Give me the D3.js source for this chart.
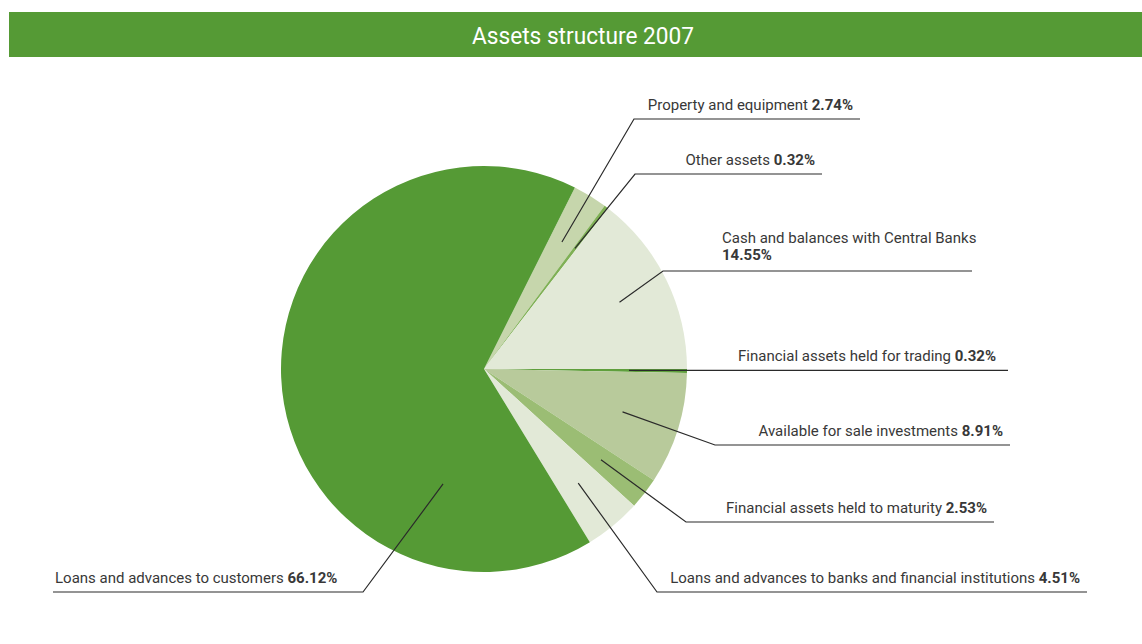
<!DOCTYPE html>
<html>
<head>
<meta charset="utf-8">
<script src="https://cdn.jsdelivr.net/npm/d3@7"></script>
<style>
  html, body { margin: 0; padding: 0; background: #fff; }
  svg { display: block; }
</style>
</head>
<body>
<svg id="chart" width="1142" height="644"></svg>
<script>
// Asset categories (clockwise from the top-right) and their shares of total assets, %
const categories = [
  "Property and equipment",
  "Other assets",
  "Cash and balances with Central Banks",
  "Financial assets held for trading",
  "Available for sale investments",
  "Financial assets held to maturity",
  "Loans and advances to banks and financial institutions",
  "Loans and advances to customers"
];
const shares = [2.74, 0.32, 14.55, 0.32, 8.91, 2.53, 4.51, 66.12];
const sliceColors = ["#c6d6ac", "#7fb055", "#e2e9d7", "#5f9f3c", "#b8ca9b", "#9bbd74", "#e2e9d7", "#559a35"];
const title = "Assets structure 2007";

const svg = d3.select("#chart");
const W = 1142;

// Title band
svg.append("rect")
  .attr("x", 9).attr("y", 12).attr("width", W - 9).attr("height", 45)
  .attr("fill", "#559a35");
svg.append("text")
  .attr("x", 583).attr("y", 44)
  .attr("text-anchor", "middle")
  .attr("fill", "#fff")
  .attr("font-family", "Roboto, sans-serif")
  .attr("font-size", 24)
  .attr("font-weight", 400)
  .attr("textLength", 222)
  .attr("lengthAdjust", "spacingAndGlyphs")
  .text(title);

// Pie
const cx = 484, cy = 369, R = 203;
const rows = categories.map((c, i) => ({ name: c, value: shares[i], color: sliceColors[i] }));
const startDeg = 26.6;
const pie = d3.pie().sort(null).value(d => d.value)
  .startAngle(startDeg * Math.PI / 180)
  .endAngle((startDeg + 360) * Math.PI / 180);
const arcs = pie(rows);
const arc = d3.arc().innerRadius(0).outerRadius(R);

const g = svg.append("g").attr("transform", `translate(${cx},${cy})`);
g.selectAll("path.slice").data(arcs).enter().append("path")
  .attr("class", "slice")
  .attr("d", arc)
  .attr("fill", d => d.data.color);

// Label layout: elbow point, underline end, anchor radius and optional anchor angle override
const layout = [
  { elbow: [634, 119], end: 860, align: "end", r: 149 },
  { elbow: [635, 174], end: 822, align: "end", r: 151 },
  { elbow: [663, 271], end: 972, align: "start", textX: 722, twoLine: true, r: 151 },
  { elbow: null, end: 1008, align: "end", r: 145, textEnd: 996 },
  { elbow: [715, 445], end: 1010, align: "end", r: 145 },
  { elbow: [686, 522], end: 994, align: "end", r: 148 },
  { elbow: [657, 592], end: 1087, align: "end", r: 148 },
  { elbow: [363, 592], end: 53, align: "start", r: 122, angleDeg: 199.6, textX: 55 }
];

const lab = svg.append("g")
  .attr("font-family", "Roboto, sans-serif")
  .attr("font-size", 15)
  .attr("fill", "#383838");

arcs.forEach((a, i) => {
  const L = layout[i];
  const ang = L.angleDeg != null ? L.angleDeg * Math.PI / 180 : (a.startAngle + a.endAngle) / 2;
  const ax = cx + L.r * Math.sin(ang);
  const ay = cy - L.r * Math.cos(ang);
  const ex = L.elbow ? L.elbow[0] : ax;
  const ey = L.elbow ? L.elbow[1] : ay;
  // Leader line from inside the slice to the elbow, then the underline
  lab.append("polyline")
    .attr("points", [[ax, ay], [ex, ey], [L.end, ey]].map(p => p.join(",")).join(" "))
    .attr("fill", "none")
    .attr("stroke", "#2a2a2a")
    .attr("stroke-width", 1.2);

  const pct = d3.format(".2f")(a.data.value) + "%";
  if (L.twoLine) {
    lab.append("text").attr("x", L.textX).attr("y", ey - 28).text(a.data.name);
    lab.append("text").attr("x", L.textX).attr("y", ey - 11)
      .attr("font-weight", 700).text(pct);
  } else {
    const x = L.align === "end" ? (L.textEnd != null ? L.textEnd : L.end - 7) : L.textX;
    const t = lab.append("text")
      .attr("x", x).attr("y", ey - 9)
      .attr("text-anchor", L.align);
    t.append("tspan").text(a.data.name + " ");
    t.append("tspan").attr("font-weight", 700).text(pct);
  }
});
</script>
</body>
</html>
